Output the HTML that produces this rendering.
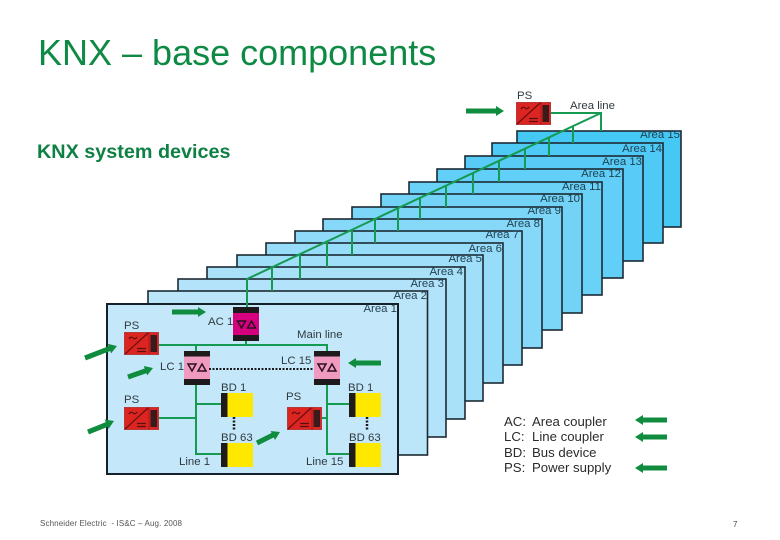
<!DOCTYPE html>
<html><head><meta charset="utf-8"><style>
html,body{margin:0;padding:0;background:#fff}
svg{display:block}
text{font-family:"Liberation Sans",sans-serif}
.l{font-size:11.4px;fill:#2f3a40}
.a{font-size:11.4px;fill:#1f3f50;text-anchor:end}
.g{font-size:13.2px;fill:#2b2b2b}
</style></head><body>
<svg width="780" height="540" viewBox="0 0 780 540" xmlns="http://www.w3.org/2000/svg">
<defs>
<g id="ps"><rect x="0.5" y="0.500" width="34" height="22" fill="#dc2420" stroke="#b8393a"/><path d="M25 0V23" stroke="#a81c1c"/><path d="M1 22L24 1" stroke="#6a1010" stroke-width="1.200" fill="none"/><rect x="26.500" y="3" width="6.500" height="17" fill="#3a1a1a"/><path d="M5 7q2-3 4-1t4-1" stroke="#5a1010" stroke-width="1.200" fill="none"/><path d="M13 16.500h9M13 19.500h9" stroke="#5a1010" stroke-width="1.300" fill="none"/></g>
<g id="tri"><path d="M0 0h8l-4 7zM10 7h8l-4-7z" fill="none" stroke="#2a1020" stroke-width="1.500"/></g>
<g id="cp"><rect x="0" y="0" width="26" height="34" fill="#f09ac0"/><rect x="0" y="0" width="26" height="5.500" fill="#1e1a1c"/><rect x="0" y="28" width="26" height="6" fill="#1e1a1c"/><use href="#tri" x="4" y="13"/></g>
<g id="bd"><rect x="0" y="0" width="32" height="24" fill="#ffe800"/><rect x="0" y="0" width="6.500" height="24" fill="#1e1c1a"/></g>
<path id="hd" d="M0 0L-8 -5L-8 5Z"/>
</defs>

<text x="38" y="65" font-size="36" fill="#0f8a44">KNX – base components</text>
<text x="37" y="158" font-size="19.800" font-weight="bold" fill="#0f8044">KNX system devices</text>

<g stroke="#1c2a33" stroke-width="1.600">
<rect x="517" y="131" width="164" height="96" fill="#46c8f5"/>
<rect x="492" y="143" width="171" height="100" fill="#4fcaf6"/>
<rect x="465" y="156" width="178" height="105" fill="#58ccf6"/>
<rect x="437" y="169" width="186" height="109" fill="#61cff7"/>
<rect x="409" y="182" width="193" height="113" fill="#6ad1f7"/>
<rect x="381" y="194" width="201" height="119" fill="#73d3f7"/>
<rect x="352" y="207" width="210" height="123" fill="#7cd6f8"/>
<rect x="323" y="219" width="219" height="129" fill="#85d8f8"/>
<rect x="295" y="231" width="227" height="134" fill="#8edaf8"/>
<rect x="266" y="243" width="237" height="140" fill="#97dcf9"/>
<rect x="237" y="255" width="246" height="146" fill="#a0dff9"/>
<rect x="207" y="267" width="258" height="152" fill="#a9e1f9"/>
<rect x="178" y="279" width="268" height="158" fill="#b2e3fa"/>
<rect x="148" y="291" width="279.500" height="164" fill="#bbe6fa"/>
<rect x="107" y="304" width="291" height="170" fill="#c4e8fa" stroke="#14202a" stroke-width="2"/>
</g>

<g stroke="#159a52" stroke-width="2" fill="none">
<path d="M551 113H601V131M601 113L247 279V307"/>
<path d="M573 126V143M549 137V156M525 149V169M499 161V182M473 173V194M446 186V207M420 198V219M398 208V231M375 219V243M352 230V255M327 242V267M300 254V279M272 267V291"/>
<path d="M159 345H327V351M196 345V351M246 341V345M196 385V454H221M196 404H221M159 418H196M327 385V454H349M327 404H349M321 418H327"/>
</g>

<use href="#ps" x="516" y="102"/>
<use href="#ps" x="124" y="332"/>
<use href="#ps" x="124" y="407"/>
<use href="#ps" x="287" y="407"/>

<g>
<rect x="233" y="307" width="26" height="34" fill="#d6007f"/><rect x="233" y="307" width="26" height="6" fill="#1e1a1c"/><rect x="233" y="335" width="26" height="6" fill="#1e1a1c"/><use href="#tri" x="237.500" y="321"/>
</g>
<use href="#cp" x="184" y="351"/>
<use href="#cp" x="314" y="351"/>
<use href="#bd" x="221" y="393"/>
<use href="#bd" x="221" y="443"/>
<use href="#bd" x="349" y="393"/>
<use href="#bd" x="349" y="443"/>

<path d="M209 369H314" stroke="#1a1a1a" stroke-width="2" stroke-dasharray="2 1.500"/>
<path d="M234 417V430M367 417V430" stroke="#1a1a1a" stroke-width="2.500" stroke-dasharray="2 1.500"/>

<g stroke="#0f8c3d" stroke-width="5" fill="none">
<path d="M466 111H498M172 312H200M85 358L111 348M128 377L148 370M88 432L108 424M381 363H354M257 443L275 434M667 420H641M667 437H641M667 468H641"/>
</g>
<g fill="#0f8c3d">
<use href="#hd" transform="translate(504,111)"/>
<use href="#hd" transform="translate(206,312)"/>
<use href="#hd" transform="translate(117,346) rotate(-19)"/>
<use href="#hd" transform="translate(153,368) rotate(-20)"/>
<use href="#hd" transform="translate(114,421) rotate(-23)"/>
<use href="#hd" transform="translate(348,363) rotate(180)"/>
<use href="#hd" transform="translate(280,432) rotate(-26)"/>
<use href="#hd" transform="translate(635,420) rotate(180)"/>
<use href="#hd" transform="translate(635,437) rotate(180)"/>
<use href="#hd" transform="translate(635,468) rotate(180)"/>
</g>

<text class="a" x="680" y="138">Area 15</text>
<text class="a" x="662" y="152">Area 14</text>
<text class="a" x="642" y="165">Area 13</text>
<text class="a" x="621" y="177">Area 12</text>
<text class="a" x="601" y="190">Area 11</text>
<text class="a" x="580" y="202">Area 10</text>
<text class="a" x="561" y="214">Area 9</text>
<text class="a" x="540" y="227">Area 8</text>
<text class="a" x="519" y="238">Area 7</text>
<text class="a" x="502" y="252">Area 6</text>
<text class="a" x="482" y="262">Area 5</text>
<text class="a" x="463" y="275">Area 4</text>
<text class="a" x="444" y="287">Area 3</text>
<text class="a" x="427" y="299">Area 2</text>
<text class="a" x="397" y="312">Area 1</text>

<text class="l" x="517" y="99">PS</text>
<text class="l" x="570" y="109">Area line</text>
<text class="l" x="208" y="325">AC 1</text>
<text class="l" x="297" y="338">Main line</text>
<text class="l" x="124" y="329">PS</text>
<text class="l" x="160" y="370">LC 1</text>
<text class="l" x="281" y="364">LC 15</text>
<text class="l" x="221" y="391">BD 1</text>
<text class="l" x="348" y="391">BD 1</text>
<text class="l" x="124" y="403">PS</text>
<text class="l" x="286" y="400">PS</text>
<text class="l" x="221" y="441">BD 63</text>
<text class="l" x="349" y="441">BD 63</text>
<text class="l" x="179" y="465">Line 1</text>
<text class="l" x="306" y="465">Line 15</text>

<text class="g" x="504" y="426">AC:</text><text class="g" x="532" y="426">Area coupler</text>
<text class="g" x="504" y="441">LC:</text><text class="g" x="532" y="441">Line coupler</text>
<text class="g" x="504" y="457">BD:</text><text class="g" x="532" y="457">Bus device</text>
<text class="g" x="504" y="472">PS:</text><text class="g" x="532" y="472">Power supply</text>

<text x="40" y="526" font-size="8" fill="#555" textLength="142" xml:space="preserve">Schneider Electric  - IS&amp;C – Aug. 2008</text>
<text x="733" y="527" font-size="8" fill="#444">7</text>
</svg>
</body></html>
